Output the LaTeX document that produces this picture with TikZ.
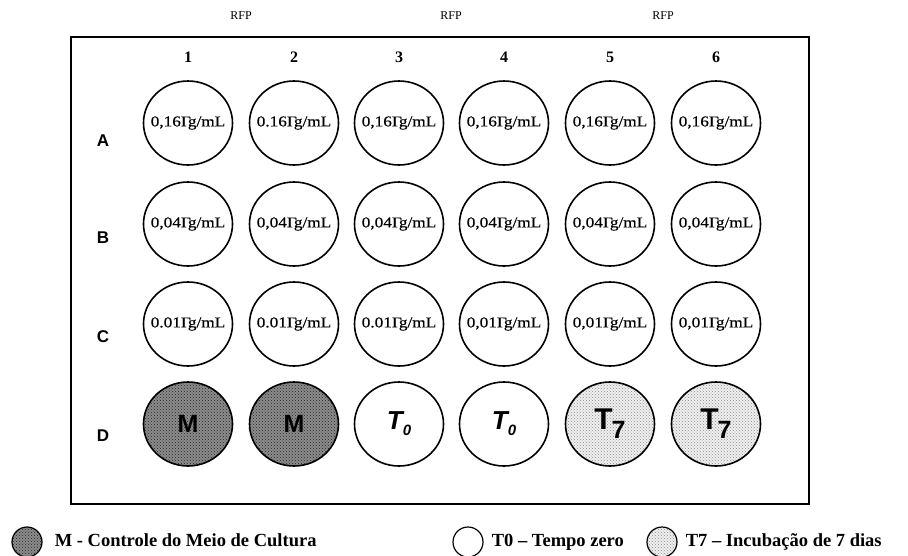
\documentclass[tikz,border=0pt]{standalone}
\usepackage{fontspec}
\setmainfont{Liberation Serif}
\newfontfamily\platesans{Liberation Sans}
\newfontfamily\wellfont[FakeStretch=1.15, FakeBold=0.4]{Liberation Serif}
\usepackage{xcolor}
\usetikzlibrary{shapes.geometric, patterns, positioning}
\newcommand{\ug}{Γ\kern-0.2em g}
\newcommand{\dose}[1]{\makebox[0pt]{#1\ug/mL}}

\begin{document}
\begin{tikzpicture}[
        x=1pt, y=-1pt,
        well/.style={
            ellipse,
            draw,
            line width=1.6pt,
            minimum width=89pt,
            minimum height=84pt,
            inner sep=0pt,
            font=\wellfont\fontsize{15}{15}\selectfont
        },
        mwell/.style={well, preaction={fill=black!45}, pattern=crosshatch dots, pattern color=black!85,
            font=\platesans\bfseries\fontsize{25}{25}\selectfont},
        tzwell/.style={well, font=\platesans\bfseries\itshape\fontsize{26}{26}\selectfont},
        tswell/.style={well, preaction={fill=black!6}, pattern=crosshatch dots, pattern color=black!45,
            font=\platesans\bfseries\fontsize{30}{30}\selectfont},
        rowlab/.style={font=\platesans\bfseries\fontsize{17}{17}\selectfont},
        collab/.style={font=\bfseries\fontsize{16}{16}\selectfont},
        rfp/.style={font=\fontsize{12}{12}\selectfont},
        key/.style={circle, draw, line width=1.2pt, minimum size=30pt, inner sep=0pt},
        legend/.style={font=\bfseries\fontsize{18.5}{18.5}\selectfont, inner sep=0pt,
            text height=13pt, text depth=4pt}
    ]
        \useasboundingbox (0,0) rectangle (908,555);
        % Plate frame
        \draw[line width=1.5pt] (71,37) rectangle (809,504);
        % Column headers
        \node[rfp] (rfp1) at (241,16) {RFP};
        \node[rfp] (rfp2) at (451,16) {RFP};
        \node[rfp] (rfp3) at (663,16) {RFP};
        \node[collab] (n1) at (188,57) {1};
        \node[collab] (n2) at (294,57) {2};
        \node[collab] (n3) at (399,57) {3};
        \node[collab] (n4) at (504,57) {4};
        \node[collab] (n5) at (610,57) {5};
        \node[collab] (n6) at (716,57) {6};
        % Row A
        \node[rowlab] (la) at (103,141) {A};
        \node[well] (a1) at (188,123) {\dose{0,16}};
        \node[well] (a2) at (294,123) {\dose{0.16}};
        \node[well] (a3) at (399,123) {\dose{0,16}};
        \node[well] (a4) at (504,123) {\dose{0,16}};
        \node[well] (a5) at (610,123) {\dose{0,16}};
        \node[well] (a6) at (716,123) {\dose{0,16}};
        % Row B
        \node[rowlab] (lb) at (103,238) {B};
        \node[well] (b1) at (188,224) {\dose{0,04}};
        \node[well] (b2) at (294,224) {\dose{0,04}};
        \node[well] (b3) at (399,224) {\dose{0,04}};
        \node[well] (b4) at (504,224) {\dose{0,04}};
        \node[well] (b5) at (610,224) {\dose{0,04}};
        \node[well] (b6) at (716,224) {\dose{0,04}};
        % Row C
        \node[rowlab] (lc) at (103,337) {C};
        \node[well] (c1) at (188,324) {\dose{0.01}};
        \node[well] (c2) at (294,324) {\dose{0.01}};
        \node[well] (c3) at (399,324) {\dose{0.01}};
        \node[well] (c4) at (504,324) {\dose{0,01}};
        \node[well] (c5) at (610,324) {\dose{0,01}};
        \node[well] (c6) at (716,324) {\dose{0,01}};
        % Row D (controls)
        \node[rowlab] (ld) at (103,436) {D};
        \node[mwell] (d1) at (188,424) {M};
        \node[mwell] (d2) at (294,424) {M};
        \node[tzwell] (d3) at (399,424) {T\raisebox{-6pt}{\fontsize{15}{15}\selectfont 0}};
        \node[tzwell] (d4) at (504,424) {T\raisebox{-6pt}{\fontsize{15}{15}\selectfont 0}};
        \node[tswell] (d5) at (610,424) {T\kern-1pt\raisebox{-9pt}{\fontsize{25}{25}\selectfont 7}};
        \node[tswell] (d6) at (716,424) {T\kern-1pt\raisebox{-9pt}{\fontsize{25}{25}\selectfont 7}};
        % Legend
        \node[key, preaction={fill=black!45}, pattern=crosshatch dots, pattern color=black!85] (km) at (27,542) {};
        \node[legend, right=12pt of km] (tm) {M - Controle do Meio de Cultura};
        \node[key] (kz) at (468,542) {};
        \node[legend, right=8pt of kz] (tz) {T0 -- Tempo zero};
        \node[key, preaction={fill=black!6}, pattern=crosshatch dots, pattern color=black!45] (ks) at (662,542) {};
        \node[legend, right=8pt of ks] (ts) {T7 -- Incubação de 7 dias};
    \end{tikzpicture}
\end{document}
